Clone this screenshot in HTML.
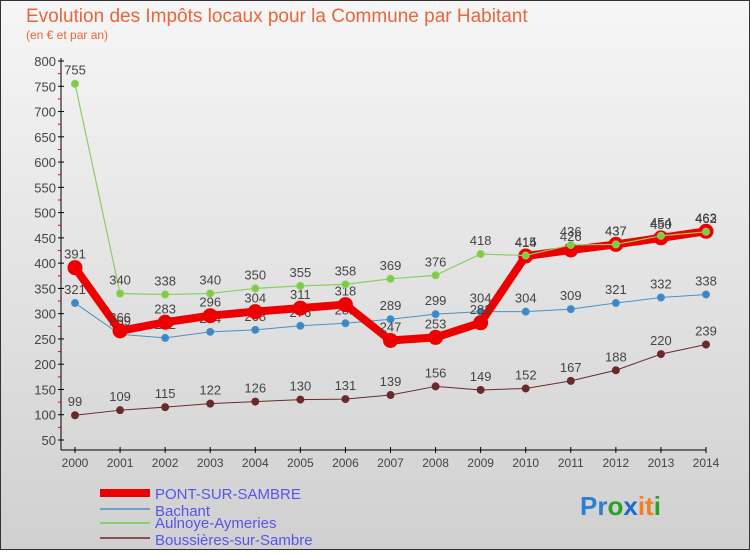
<!DOCTYPE html>
<html><head><meta charset="utf-8"><style>
body{margin:0;width:750px;height:550px;overflow:hidden;font-family:"Liberation Sans",sans-serif}
</style></head><body>
<svg width="750" height="550" xmlns="http://www.w3.org/2000/svg" font-family="Liberation Sans, sans-serif">
<defs><linearGradient id="bg" x1="0" y1="0" x2="0" y2="1"><stop offset="0" stop-color="#f6f6f6"/><stop offset="1" stop-color="#d0d0d0"/></linearGradient></defs>
<rect x="0.5" y="0.5" width="749" height="549" fill="url(#bg)" stroke="#333"/>
<text x="26" y="22" font-size="19" fill="#e8663a">Evolution des Impôts locaux pour la Commune par Habitant</text>
<text x="26" y="39" font-size="12" fill="#e8663a">(en € et par an)</text>
<g id="axes"></g><g id="series"></g>
<g font-size="15" fill="#5555ee">
<rect x="100" y="489" width="50" height="8" fill="#e00"/>
<text x="155" y="499">PONT-SUR-SAMBRE</text>
<rect x="100" y="508" width="50" height="2" fill="#6fa0c8"/>
<text x="155" y="516">Bachant</text>
<rect x="100" y="522" width="50" height="2" fill="#88d070"/>
<text x="155" y="528">Aulnoye-Aymeries</text>
<rect x="100" y="537" width="50" height="2" fill="#8a5050"/>
<text x="155" y="545">Boussières-sur-Sambre</text>
</g>
<text x="580" y="515" font-size="26" font-weight="bold"><tspan fill="#2a7fd0">Pr</tspan><tspan fill="#2aa02a">o</tspan><tspan fill="#1a6ad0">x</tspan><tspan fill="#f08020">it</tspan><tspan fill="#2aa02a">i</tspan></text>
</svg>
<script>
const years=[2000,2001,2002,2003,2004,2005,2006,2007,2008,2009,2010,2011,2012,2013,2014];
const yTicks=[50,100,150,200,250,300,350,400,450,500,550,600,650,700,750,800];
const pont=[391,266,283,296,304,311,318,247,253,282,414,426,437,450,463];
const bachant=[321,259,252,264,268,276,281,289,299,304,304,309,321,332,338];
const aulnoye=[755,340,338,340,350,355,358,369,376,418,415,436,437,454,462];
const bouss=[99,109,115,122,126,130,131,139,156,149,152,167,188,220,239];
const NS="http://www.w3.org/2000/svg";
const X=i=>75+i*(706-75)/14;
const Y=v=>61+(800-v)*(440-61)/750;
function mk(t,a,p){const e=document.createElementNS(NS,t);for(const k in a)e.setAttribute(k,a[k]);p.appendChild(e);return e;}
const ax=document.getElementById('axes');
const yl=mk('line',{x1:61,y1:58,x2:61,y2:450,stroke:'#000'},ax);


const xl=mk('line',{x1:61,y1:450,x2:706,y2:450,stroke:'#000'},ax);


yTicks.forEach(v=>{const y=Y(v);
mk('line',{x1:58,y1:y,x2:64,y2:y,stroke:'#000'},ax);
if(v<800)mk('line',{x1:58,y1:y-12.6,x2:61,y2:y-12.6,stroke:'#e00'},ax);
const t=mk('text',{x:56,y:y+5,'text-anchor':'end','font-size':13,fill:'#444'},ax);t.textContent=v;

});
years.forEach((yr,i)=>{const x=X(i);mk('line',{x1:x,y1:447,x2:x,y2:453,stroke:'#000'},ax);
const t=mk('text',{x:x,y:467,'text-anchor':'middle','font-size':12,fill:'#444'},ax);t.textContent=yr;

});
const sg=document.getElementById('series');
function draw(data,color,w,r,name,dot){
const g=mk('g',{},sg);


mk('polyline',{points:data.map((v,i)=>X(i)+','+Y(v)).join(' '),fill:'none',stroke:color,'stroke-width':w,'stroke-linejoin':'round'},g);
data.forEach((v,i)=>{const c=mk('circle',{cx:X(i),cy:Y(v),r:r,fill:dot,stroke:color,'stroke-width':1},g);


const t=mk('text',{x:X(i),y:Y(v)-9,'text-anchor':'middle','font-size':13,fill:'#444'},g);t.textContent=v;

});}
draw(bouss,'#6a2a2a',1,3.5,'boussieres','#6a2a2a');
draw(bachant,'#4a90c8',1,3.5,'bachant','#3a88c8');
draw(pont,'#ee0000',8,7,'pont','#ee0000');
draw(aulnoye,'#88d060',1.2,3.5,'aulnoye','#80cc40');
</script>
</body></html>
